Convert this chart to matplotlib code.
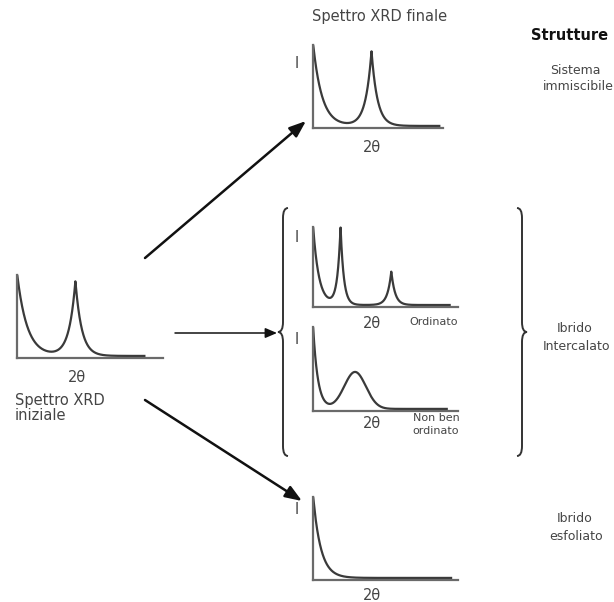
import numpy as np
import matplotlib.pyplot as plt
from matplotlib.path import Path
from matplotlib.patches import PathPatch

plt.rcParams['font.family'] = ['DejaVu Sans']

W, H = 614, 602

# schematic peaks: centre (fraction of 2θ axis), height (fraction of I axis), width
ini_pos, ini_h, ini_w = [0.0, 0.40], [1.0, 0.90], [0.068, 0.043]
fin_pos, fin_h, fin_w = [0.0, 0.45], [1.0, 0.90], [0.068, 0.045]
ord_pos, ord_h, ord_w = [0.0, 0.19, 0.54], [1.0, 0.97, 0.42], [0.04, 0.022, 0.026]
nbo_pos, nbo_h, nbo_w = [0.0, 0.29], [1.0, 0.44], [0.033, 0.075]
nbo_shape = ['exp', 'gau']
esf_pos, esf_h, esf_w = [0.0], [1.0], [0.053]

curve_col = '#3a3a3a'
axis_col = '#6a6a6a'
txt_col = '#454545'

fig = plt.figure(figsize=(W / 100, H / 100), dpi=100)
ax = fig.add_axes([0, 0, 1, 1])
ax.set_xlim(0, W)
ax.set_ylim(H, 0)
ax.axis('off')


def spectrum(x0, x1, ytop, ybot, pos, hts, wid, shapes=None, end=0.97, base=0.025):
    a = fig.add_axes([x0 / W, 1 - ybot / H, (x1 - x0) / W, (ybot - ytop) / H])
    a.patch.set_alpha(0)
    a.set_xlim(0, 1)
    a.set_ylim(0, 1)
    for s in ['top', 'right']:
        a.spines[s].set_visible(False)
    for s in ['left', 'bottom']:
        a.spines[s].set_color(axis_col)
        a.spines[s].set_linewidth(1.6)
    a.set_xticks([])
    a.set_yticks([])
    x = np.linspace(0, end, 800)
    y = np.full_like(x, base)
    shapes = shapes or ['exp'] * len(pos)
    for c, h, w, sh in zip(pos, hts, wid, shapes):
        if sh == 'exp':
            y += h * np.exp(-np.abs(x - c) / w)
        else:
            y += h * np.exp(-0.5 * ((x - c) / w) ** 2)
    y = np.minimum(y, 1.0)
    a.plot(x, y, color=curve_col, lw=1.6, clip_on=False, solid_capstyle='butt')
    return a


spectrum(17, 163, 275, 358, ini_pos, ini_h, ini_w, end=0.88)
spectrum(313, 443, 45, 128, fin_pos, fin_h, fin_w, end=0.98)
spectrum(313, 458, 227, 307, ord_pos, ord_h, ord_w, end=0.95)
spectrum(313, 458, 327, 411, nbo_pos, nbo_h, nbo_w, shapes=nbo_shape, end=0.93)
spectrum(313, 458, 497, 580, esf_pos, esf_h, esf_w, end=0.96)

# texts
fs = 10.5
ax.text(77, 377, '2θ', fontsize=fs, color=txt_col, ha='center', va='center')
ax.text(15, 400, 'Spettro XRD', fontsize=fs, color=txt_col, ha='left', va='center')
ax.text(15, 416, 'iniziale', fontsize=fs, color=txt_col, ha='left', va='center')

ax.text(380, 17, 'Spettro XRD finale', fontsize=fs, color=txt_col, ha='center', va='center')
for yy in [63, 237, 340, 510]:
    ax.text(297, yy, 'I', fontsize=fs, color=txt_col, ha='center', va='center')
for yy in [147, 323, 424, 596]:
    ax.text(372, yy, '2θ', fontsize=fs, color=txt_col, ha='center', va='center')

fs2 = 8
ax.text(434, 322, 'Ordinato', fontsize=fs2, color=txt_col, ha='center', va='center')
ax.text(436, 418, 'Non ben', fontsize=fs2, color=txt_col, ha='center', va='center')
ax.text(436, 431, 'ordinato', fontsize=fs2, color=txt_col, ha='center', va='center')

ax.text(570, 36, 'Strutture', fontsize=10.5, color='#111111', fontweight='bold',
        ha='center', va='center')
fs3 = 9
ax.text(575, 70, 'Sistema', fontsize=fs3, color=txt_col, ha='center', va='center')
ax.text(578, 86, 'immiscibile', fontsize=fs3, color=txt_col, ha='center', va='center')
ax.text(575, 329, 'Ibrido', fontsize=fs3, color=txt_col, ha='center', va='center')
ax.text(577, 346, 'Intercalato', fontsize=fs3, color=txt_col, ha='center', va='center')
ax.text(575, 519, 'Ibrido', fontsize=fs3, color=txt_col, ha='center', va='center')
ax.text(576, 537, 'esfoliato', fontsize=fs3, color=txt_col, ha='center', va='center')

# arrows
arr = dict(arrowstyle='-|>,head_length=1.0,head_width=0.38', color='#111111',
           lw=1.8, shrinkA=0, shrinkB=0)
ax.annotate('', xy=(306, 121), xytext=(145, 258), arrowprops=arr)
ax.annotate('', xy=(302, 501), xytext=(145, 400), arrowprops=arr)
arr2 = dict(arr, lw=1.1, arrowstyle='-|>,head_length=0.7,head_width=0.3')
ax.annotate('', xy=(277, 333), xytext=(175, 333), arrowprops=arr2)


def brace(x, y0, y1, d):
    ym = (y0 + y1) / 2
    verts = [(x + d, y0), (x, y0), (x, y0 + 10),
             (x, ym - 10),
             (x, ym), (x - d, ym),
             (x, ym), (x, ym + 10),
             (x, y1 - 10),
             (x, y1), (x + d, y1)]
    codes = [Path.MOVETO, Path.CURVE3, Path.CURVE3,
             Path.LINETO,
             Path.CURVE3, Path.CURVE3,
             Path.CURVE3, Path.CURVE3,
             Path.LINETO,
             Path.CURVE3, Path.CURVE3]
    ax.add_patch(PathPatch(Path(verts, codes), fill=False, color='#333333', lw=1.4))


brace(283, 208, 456, 5)
brace(522, 208, 456, -5)

fig.savefig('out.png', dpi=100)
